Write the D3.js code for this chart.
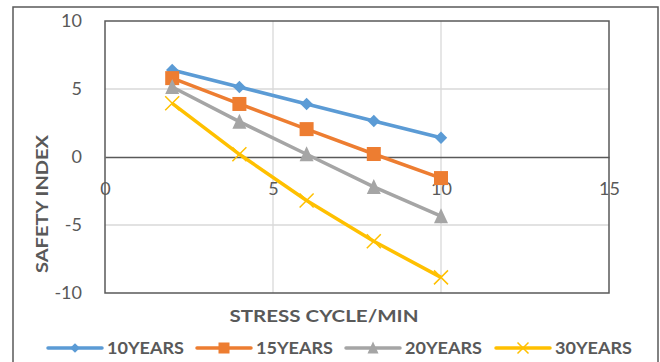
<!DOCTYPE html>
<html><head><meta charset="utf-8">
<script src="https://cdn.jsdelivr.net/npm/d3@7"></script>
<style>body{margin:0;background:#fff}svg{display:block}text{font-family:Lato,"Open Sans",sans-serif}</style>
</head><body>
<script>
const xValues = [2, 4, 6, 8, 10];
const seriesNames = ["10YEARS", "15YEARS", "20YEARS", "30YEARS"];
const years10 = [6.4, 5.15, 3.9, 2.65, 1.42];
const years15 = [5.8, 3.9, 2.05, 0.22, -1.55];
const years20 = [5.15, 2.6, 0.2, -2.2, -4.35];
const years30 = [3.95, 0.2, -3.2, -6.2, -8.85];
const xTicks = [0, 5, 10, 15];
const yTicks = [-10, -5, 0, 5, 10];
const colors = ["#5B9BD5", "#ED7D31", "#A5A5A5", "#FFC000"];
const markers = ["diamond", "square", "triangle", "x"];
const seriesValues = [years10, years15, years20, years30];

const W = 660, H = 362;
const svg = d3.select("body").append("svg").attr("width", W).attr("height", H);
svg.append("rect").attr("x", 13).attr("y", 7).attr("width", 645).attr("height", 370)
  .attr("fill", "#fff").attr("stroke", "#595959").attr("stroke-width", 1.5);

const L = 105, R = 609, T = 21, B = 293;
const x = d3.scaleLinear().domain([0, 15]).range([L, R]);
const y = d3.scaleLinear().domain([-10, 10]).range([B, T]);

// gridlines
svg.append("g").selectAll("line").data(yTicks.filter(v => v !== 0 && Math.abs(v) !== 10)).join("line")
  .attr("x1", L).attr("x2", R).attr("y1", d => y(d)).attr("y2", d => y(d))
  .attr("stroke", "#d9d9d9").attr("stroke-width", 1.3);
svg.append("g").selectAll("line").data(xTicks.filter(v => v !== 0 && v !== 15)).join("line")
  .attr("y1", T).attr("y2", B).attr("x1", d => x(d)).attr("x2", d => x(d))
  .attr("stroke", "#d9d9d9").attr("stroke-width", 1.3);

// plot border
svg.append("rect").attr("x", L).attr("y", T).attr("width", R - L).attr("height", B - T)
  .attr("fill", "none").attr("stroke", "#595959").attr("stroke-width", 1.5);

// x axis at y=0
const xAxis = d3.axisBottom(x).tickValues(xTicks).tickSize(0).tickPadding(0).tickFormat(d => String(d));
const gx = svg.append("g").attr("transform", `translate(0,${y(0)})`).call(xAxis);
gx.select(".domain").attr("stroke", "#595959").attr("stroke-width", 1.5);
gx.selectAll("text").attr("font-size", 18).attr("fill", "#595959").attr("dy", "2.1em")
  .attr("font-family", "Lato");

// y axis labels
const yAxis = d3.axisLeft(y).tickValues(yTicks).tickSize(0).tickPadding(23).tickFormat(d => String(d));
const gy = svg.append("g").attr("transform", `translate(${L},0)`).call(yAxis);
gy.select(".domain").remove();
gy.selectAll("text").attr("font-size", 18).attr("fill", "#595959").attr("font-family", "Lato");

// axis titles
svg.append("text").attr("transform", "translate(48,204) rotate(-90)").attr("text-anchor", "middle")
  .attr("font-size", 17).attr("font-weight", "bold").attr("fill", "#595959")
  .attr("textLength", 138).attr("lengthAdjust", "spacingAndGlyphs").text("SAFETY INDEX");
svg.append("text").attr("x", 324).attr("y", 322).attr("text-anchor", "middle")
  .attr("font-size", 17).attr("font-weight", "bold").attr("fill", "#595959")
  .attr("textLength", 189).attr("lengthAdjust", "spacingAndGlyphs").text("STRESS CYCLE/MIN");

function drawMarker(g, type, color, s) {
  if (type === "diamond") {
    g.append("path").attr("d", d3.symbol(d3.symbolDiamond2, s * s * 0.5)()).attr("fill", color);
  } else if (type === "square") {
    g.append("rect").attr("x", -s / 2).attr("y", -s / 2).attr("width", s).attr("height", s).attr("fill", color);
  } else if (type === "triangle") {
    g.append("path").attr("d", `M0,${-s/2-1}L${s/2},${s/2}L${-s/2},${s/2}Z`).attr("fill", color);
  } else {
    const h = s / 2;
    g.append("path").attr("d", `M${-h},${-h}L${h},${h}M${-h},${h}L${h},${-h}`)
      .attr("stroke", color).attr("stroke-width", 1.5).attr("fill", "none");
  }
}

const line = d3.line().x((d, i) => x(xValues[i])).y(d => y(d));
seriesValues.forEach((vals, k) => {
  svg.append("path").datum(vals).attr("d", line).attr("fill", "none")
    .attr("stroke", colors[k]).attr("stroke-width", 3.5).attr("stroke-linejoin", "round");
  vals.forEach((v, i) => {
    const g = svg.append("g").attr("transform", `translate(${x(xValues[i])},${y(v)})`);
    drawMarker(g, markers[k], colors[k], 14);
  });
});

// legend
const legendX = [48, 197, 346, 496];
seriesNames.forEach((name, k) => {
  const lx = legendX[k], ly = 348;
  svg.append("line").attr("x1", lx).attr("x2", lx + 54).attr("y1", ly).attr("y2", ly)
    .attr("stroke", colors[k]).attr("stroke-width", 3.5).attr("stroke-linecap", "round");
  const g = svg.append("g").attr("transform", `translate(${lx + 27},${ly})`);
  drawMarker(g, markers[k], colors[k], 11);
  svg.append("text").attr("x", lx + 59).attr("y", ly).attr("dy", "0.36em")
    .attr("font-size", 17).attr("font-weight", "bold").attr("fill", "#595959")
    .attr("textLength", 77).attr("lengthAdjust", "spacingAndGlyphs").text(name);
});
</script>
</body></html>
